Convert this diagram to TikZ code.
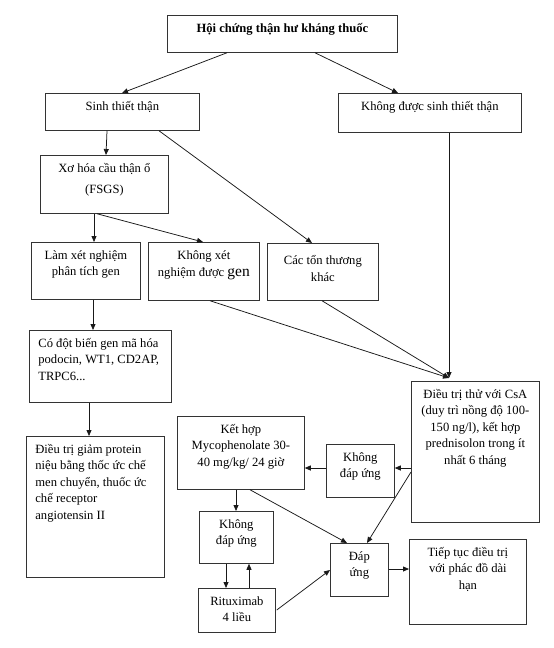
\documentclass[tikz,border=0pt]{standalone}
\usepackage{fontspec}
\setmainfont{Liberation Serif}
\usetikzlibrary{arrows.meta,calc}
\newcommand{\cboxtxt}[3]{\parbox[t][#2][t]{#1}{\centering\rule{0pt}{17pt}#3}}
\newcommand{\lboxtxt}[3]{\parbox[t][#2][t]{#1}{\raggedright\leftskip=9pt\rule{0pt}{17pt}#3}}
\tikzset{
  bx/.style={draw=black!80, line width=0.75pt, inner sep=0pt, anchor=north west,
    font=\fontsize{12.6}{16.5}\selectfont},
  arr/.style={draw=black!90, line width=0.75pt, -{Triangle[length=6pt,width=5pt]}},
  ln/.style={draw=black!90, line width=0.75pt}
}
\begin{document}
\begin{tikzpicture}[x=1pt,y=-1pt]
\useasboundingbox[fill=white] (0,0) rectangle (554,648);
% boxes
\node[bx] (top)  at (167,15)  {\cboxtxt{230pt}{37pt}{\textbf{Hội chứng thận hư kháng thuốc}}};
\node[bx] (sinh) at (45,93)   {\cboxtxt{154pt}{37pt}{Sinh thiết thận}};
\node[bx] (khong) at (338,93) {\cboxtxt{183pt}{39pt}{Không được sinh thiết thận}};
\node[bx] (xo)   at (40,155)  {\cboxtxt{128pt}{58pt}{Xơ hóa cầu thận ổ\\[4.5pt](FSGS{\large)}}};
\node[bx] (lam)  at (31,242)  {\cboxtxt{109pt}{57pt}{Làm xét nghiệm\\phân tích gen}};
\node[bx] (kxn)  at (148,242) {\cboxtxt{111pt}{58pt}{Không xét\\[1pt]nghiệm được {\fontsize{15.5}{16}\selectfont gen}}};
\node[bx] (cac)  at (267,243) {\cboxtxt{111pt}{57pt}{\rule{0pt}{21.5pt}Các tổn thương\\khác}};
\node[bx] (cod)  at (29,330)  {\lboxtxt{142pt}{72pt}{Có đột biến gen mã hóa\\podocin, WT1, CD2AP,\\TRPC6...}};
\node[bx] (dtg)  at (26,436)  {\lboxtxt{138pt}{141pt}{Điều trị giảm protein\\niệu bằng thốc ức chế\\men chuyển, thuốc ức\\chế receptor\\angiotensin II}};
\node[bx] (csa)  at (411,381) {\cboxtxt{128pt}{141pt}{Điều trị thử với CsA\\(duy trì nồng độ 100-\\150 ng/l), kết hợp\\prednisolon trong ít\\nhất 6 tháng}};
\node[bx] (kh)   at (177,416) {\cboxtxt{127pt}{73pt}{Kết hợp\\Mycophenolate 30-\\40 mg/kg/ 24 giờ}};
\node[bx] (kdu1) at (326,444) {\cboxtxt{68pt}{53pt}{Không\\đáp ứng}};
\node[bx] (kdu2) at (199,511) {\cboxtxt{74pt}{52pt}{Không\\đáp ứng}};
\node[bx] (rit)  at (198,588) {\cboxtxt{77pt}{44pt}{Rituximab\\4 liều}};
\node[bx] (du)   at (330,543) {\cboxtxt{58pt}{53pt}{Đáp\\ứng}};
\node[bx] (tt)   at (409,539) {\cboxtxt{117pt}{85pt}{Tiếp tục điều trị\\với phác đồ dài\\hạn}};
% junction above CsA box
\coordinate (conv) at ($(csa.north west)+(38,-3)$);
% connectors
\draw[arr] ($(top.south west)+(60,0)$) -- ($(sinh.north west)+(77,0)$);
\draw[arr] ($(top.south west)+(148,0)$) -- ($(khong.north west)+(60,0)$);
\draw[arr] ($(sinh.south west)+(62,0)$) -- ($(xo.north west)+(66,0)$);
\draw[arr] ($(sinh.south west)+(114,0)$) -- ($(cac.north west)+(45,0)$);
\draw[arr] (khong.south -| conv) -- (conv);
\draw[arr] ($(xo.south west)+(54,0)$) -- ($(lam.north west)+(63,0)$);
\draw[arr] ($(xo.south west)+(57,0)$) -- ($(kxn.north west)+(55,0)$);
\draw[arr] ($(lam.south west)+(62,0)$) -- ($(cod.north west)+(64,0)$);
\draw[arr] ($(cod.south west)+(60,0)$) -- ($(dtg.north west)+(63,0)$);
\draw[arr] ($(kxn.south west)+(62,0)$) -- (conv);
\draw[arr] ($(cac.south west)+(55,0)$) -- (conv);
\draw[arr] ($(csa.north west)+(0,87)$) -- ($(kdu1.north east)+(0,24)$);
\draw[arr] ($(kdu1.north west)+(0,24)$) -- ($(kh.north east)+(0,52)$);
\draw[arr] ($(csa.north west)+(0,91)$) -- ($(du.north west)+(37,0)$);
\draw[arr] ($(kh.south west)+(73,0)$) -- ($(du.north west)+(17,0)$);
\draw[arr] ($(kh.south west)+(59,0)$) -- ($(kdu2.north west)+(37,0)$);
\draw[arr] ($(kdu2.south west)+(27,0)$) -- ($(rit.north west)+(28,0)$);
\draw[arr] ($(rit.north west)+(51,0)$) -- ($(kdu2.south west)+(50,0)$);
\draw[arr] ($(rit.north east)+(1,22)$) -- ($(du.north west)+(0,27)$);
\draw[arr] ($(du.north east)+(0,26)$) -- ($(tt.north west)+(0,30)$);
\end{tikzpicture}
\end{document}
